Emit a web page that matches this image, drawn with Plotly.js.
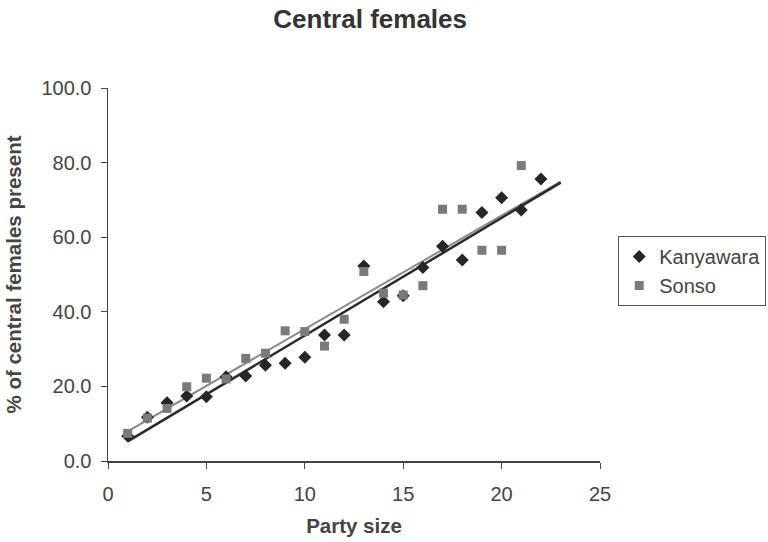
<!DOCTYPE html>
<html>
<head>
<meta charset="utf-8">
<script src="https://cdn.plot.ly/plotly-3.0.1.min.js"></script>
<style>html,body{margin:0;padding:0;background:#fff;}#chart{width:768px;height:542px;}</style>
</head>
<body>
<div id="chart"></div>
<script>
const kanX = [1,2,3,4,5,6,7,8,9,10,11,12,13,14,15,16,17,18,19,20,21,22];
const kanY = [6.7,11.7,15.6,17.4,17.2,22.6,22.8,25.7,26.2,27.8,33.8,33.8,52.3,42.7,44.3,51.9,57.6,53.9,66.6,70.6,67.3,75.6];
const sonX = [1,2,3,4,5,6,7,8,9,10,11,12,13,14,15,16,17,18,19,20,21];
const sonY = [7.4,11.5,14.1,19.9,22.2,22.0,27.5,28.9,34.9,34.7,30.8,38.0,50.8,45.0,44.5,47.0,67.5,67.5,56.5,56.5,79.2];
const trendX = [1, 23];

function fit(xs, ys) {
  const n = xs.length;
  const mx = xs.reduce((a,b)=>a+b,0)/n, my = ys.reduce((a,b)=>a+b,0)/n;
  let sxy = 0, sxx = 0;
  for (let i=0;i<n;i++){ sxy += (xs[i]-mx)*(ys[i]-my); sxx += (xs[i]-mx)*(xs[i]-mx); }
  const b = sxy/sxx, a = my - b*mx;
  return trendX.map(x => a + b*x);
}

const font = 'Liberation Sans, Arial, sans-serif';
const traces = [
  {x: trendX, y: fit(sonX, sonY), mode:'lines', line:{color:'#8a8a8a', width:2}, showlegend:false, hoverinfo:'skip'},
  {x: trendX, y: fit(kanX, kanY), mode:'lines', line:{color:'#2a2a2a', width:2.5}, showlegend:false, hoverinfo:'skip'},
  {x: kanX, y: kanY, mode:'markers', name:'Kanyawara', marker:{symbol:'diamond', size:10, color:'#262626'}},
  {x: sonX, y: sonY, mode:'markers', name:'Sonso', marker:{symbol:'square', size:9, color:'#7a7a7a'}}
];

const layout = {
  width: 768, height: 542,
  paper_bgcolor:'#ffffff', plot_bgcolor:'#ffffff',
  margin:{l:108, r:168, t:88, b:81},
  font:{family:font, size:20, color:'#444'},
  title:{text:'<b>Central females</b>', x:0.482, xanchor:'center', y:0.965, yanchor:'middle', font:{family:font, size:26, color:'#333'}},
  xaxis:{range:[0,25], dtick:5, tick0:0, showgrid:false, zeroline:false, showline:true, linecolor:'#444', linewidth:1.5,
         ticks:'outside', ticklen:6, tickcolor:'#444', tickfont:{size:20, color:'#444'}, ticklabelstandoff:8, automargin:false,
         title:{text:'<b>Party size</b>', standoff:15, font:{size:20.5, color:'#444'}}},
  yaxis:{range:[0,100], dtick:20, tick0:0, tickformat:'.1f', showgrid:false, zeroline:false, showline:true, linecolor:'#444', linewidth:1.5,
         ticks:'outside', ticklen:6, tickcolor:'#444', tickfont:{size:20, color:'#444'}, ticklabelstandoff:5, automargin:false,
         title:{text:'<b>% of central females present</b>', standoff:14, font:{size:20.5, color:'#444'}}},
  legend:{xref:'container', yref:'container', x:0.805, xanchor:'left', y:0.5, yanchor:'middle', bordercolor:'#555', borderwidth:1, bgcolor:'#fff',
          font:{size:20, color:'#444'}, tracegroupgap:0},
  showlegend:true
};

Plotly.newPlot('chart', traces, layout, {staticPlot:true});
</script>
</body>
</html>
